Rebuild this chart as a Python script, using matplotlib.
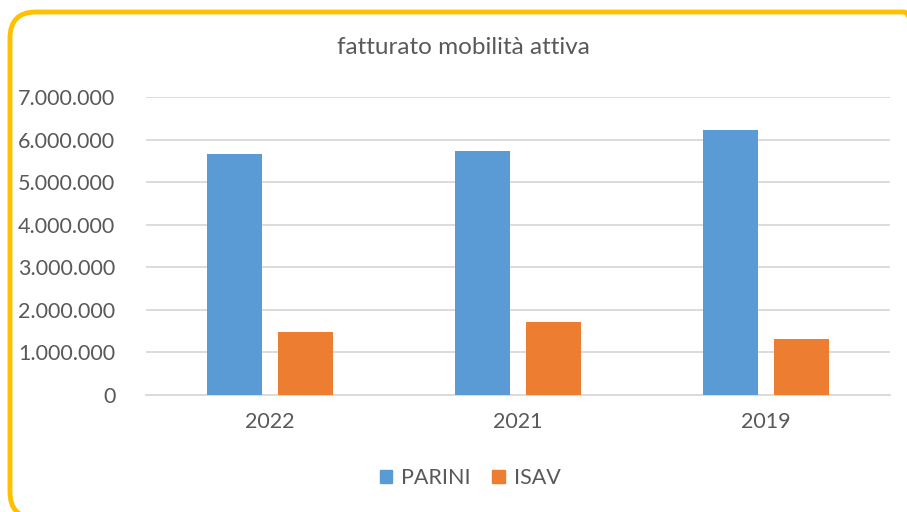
import numpy as np
import matplotlib
matplotlib.use("Agg")
import matplotlib.pyplot as plt
from matplotlib.patches import FancyBboxPatch, Patch
from matplotlib.transforms import IdentityTransform
from matplotlib.ticker import FuncFormatter

years  = ["2022", "2021", "2019"]
parini = [5650000, 5720000, 6220000]
isav   = [1480000, 1720000, 1310000]

BLUE   = "#5B9BD5"
ORANGE = "#ED7D31"
GREY   = "#595959"

plt.rcParams["font.family"] = ["Lato", "DejaVu Sans"]

fig = plt.figure(figsize=(9.07, 5.12), dpi=100)
ax = fig.add_axes([146 / 907, 1 - 395 / 512, 744 / 907, 298 / 512])

# rounded yellow frame, partly cut off at right and bottom (pixel coords)
frame = FancyBboxPatch((10, -6), 920, 506,
                       boxstyle="round,pad=0,rounding_size=26",
                       transform=IdentityTransform(), fill=False,
                       edgecolor="#FFC000", linewidth=3.5, zorder=0)
fig.patches.append(frame)

x = np.arange(len(years))
w = 0.222
ax.bar(x - 0.143, parini, w, color=BLUE, zorder=3)
ax.bar(x + 0.143, isav, w, color=ORANGE, zorder=3)

ax.set_xlim(-0.5, 2.5)
ax.set_ylim(0, 7000000)
ax.set_yticks(np.arange(0, 7000001, 1000000))
ax.yaxis.set_major_formatter(FuncFormatter(lambda v, p: f"{int(v):,}".replace(",", ".")))
ax.set_xticks(x)
ax.set_xticklabels(years)
ax.tick_params(axis="both", length=0, labelsize=15.5, colors=GREY, pad=12)
ax.tick_params(axis="y", pad=22)
ax.grid(axis="y", color="#D9D9D9", linewidth=1.3, zorder=0)
for s in ["top", "right", "left"]:
    ax.spines[s].set_visible(False)
ax.spines["bottom"].set_color("#D9D9D9")
ax.spines["bottom"].set_linewidth(1.3)

fig.text(463 / 907, 1 - 48 / 512, "fatturato mobilità attiva", ha="center",
         va="center", fontsize=17.5, color=GREY)

handles = [Patch(color=BLUE, label="PARINI"), Patch(color=ORANGE, label="ISAV")]
fig.legend(handles=handles, loc="center", bbox_to_anchor=(470 / 907, 1 - 478 / 512),
           ncol=2, frameon=False, fontsize=15.5, labelcolor=GREY,
           handlelength=0.6, handleheight=0.6, handletextpad=0.4, columnspacing=1.0)

fig.savefig("out.png", dpi=100)
